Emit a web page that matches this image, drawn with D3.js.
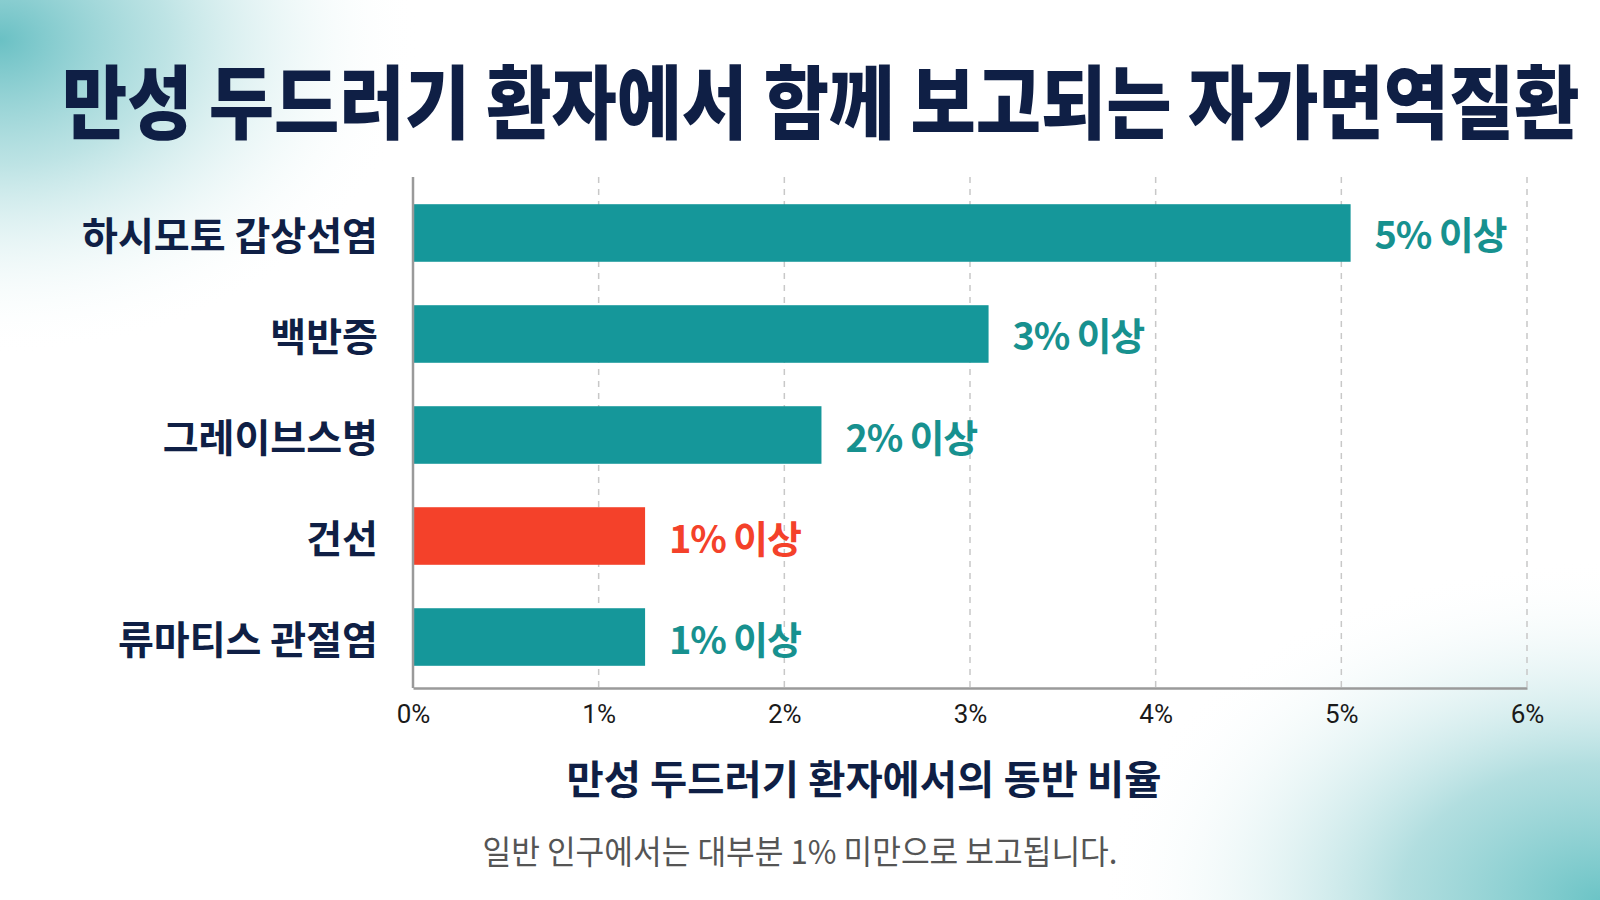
<!DOCTYPE html>
<html>
<head>
<meta charset="utf-8">
<script src="https://cdn.jsdelivr.net/npm/d3@7"></script>
<style>
  html, body { margin: 0; padding: 0; background: #fff; }
  svg { display: block; }
</style>
</head>
<body>
<svg id="chart" width="1600" height="900"></svg>
<script>
// ---- data ----
const title = "만성 두드러기 환자에서 함께 보고되는 자가면역질환";
const categories = ["하시모토 갑상선염", "백반증", "그레이브스병", "건선", "류마티스 관절염"];
const values = [5.05, 3.1, 2.2, 1.25, 1.25];
const valueLabels = ["5% 이상", "3% 이상", "2% 이상", "1% 이상", "1% 이상"];
const highlight = [false, false, false, true, false];
const tickValues = [0, 1, 2, 3, 4, 5, 6];
const tickLabels = ["0%", "1%", "2%", "3%", "4%", "5%", "6%"];
const xTitle = "만성 두드러기 환자에서의 동반 비율";
const footnote = "일반 인구에서는 대부분 1% 미만으로 보고됩니다.";

const W = 1600, H = 900;
const TEAL = "#15979a", RED = "#f4412a", NAVY = "#0f1f45";
const KR = "'Noto Sans CJK KR', 'Noto Sans', sans-serif";

const svg = d3.select("#chart");
const defs = svg.append("defs");

// background gradients
const g1 = defs.append("radialGradient").attr("id", "bgTL")
  .attr("gradientUnits", "userSpaceOnUse")
  .attr("cx", 0).attr("cy", 40).attr("r", 420)
  .attr("gradientTransform", "translate(0,40) scale(1,0.75) translate(0,-40)");
g1.append("stop").attr("offset", "0%").attr("stop-color", "#62bdc1").attr("stop-opacity", 0.95);
g1.append("stop").attr("offset", "40%").attr("stop-color", "#92d1d3").attr("stop-opacity", 0.6);
g1.append("stop").attr("offset", "100%").attr("stop-color", "#ffffff").attr("stop-opacity", 0);

const g2 = defs.append("radialGradient").attr("id", "bgBR")
  .attr("gradientUnits", "userSpaceOnUse")
  .attr("cx", 1600).attr("cy", 900).attr("r", 500)
  .attr("gradientTransform", "translate(1600,900) scale(1,0.68) translate(-1600,-900)");
g2.append("stop").attr("offset", "0%").attr("stop-color", "#6cc4c6").attr("stop-opacity", 1);
g2.append("stop").attr("offset", "40%").attr("stop-color", "#98d3d5").attr("stop-opacity", 0.75);
g2.append("stop").attr("offset", "100%").attr("stop-color", "#ffffff").attr("stop-opacity", 0);

svg.append("rect").attr("width", W).attr("height", H).attr("fill", "#fff");
svg.append("rect").attr("width", W).attr("height", H).attr("fill", "url(#bgTL)");
svg.append("rect").attr("width", W).attr("height", H).attr("fill", "url(#bgBR)");

// title (condensed horizontally to the reference width)
const titleG = svg.append("g");
const titleT = titleG.append("text")
  .attr("x", 0).attr("y", 0)
  .attr("dominant-baseline", "central")
  .attr("font-family", KR).attr("font-weight", 900)
  .attr("font-size", 80)
  .attr("fill", NAVY)
  .text(title);
const natural = titleT.node().getComputedTextLength() || 1518;
const sx = Math.min(1, 1518 / natural);
titleG.attr("transform", `translate(62,97) scale(${sx},1)`);

// scales
const plotTop = 177, plotBottom = 688;
const x = d3.scaleLinear().domain([0, 6]).range([413, 1527]);
const y = d3.scaleBand().domain(categories).range([184, 686]).paddingInner(0.43).paddingOuter(0.2);

// grid
const grid = svg.append("g");
grid.selectAll("line").data(tickValues.filter(d => d > 0)).join("line")
  .attr("x1", d => x(d)).attr("x2", d => x(d))
  .attr("y1", plotTop).attr("y2", plotBottom)
  .attr("stroke", "#c8c8c8").attr("stroke-width", 1.5)
  .attr("stroke-dasharray", "6,6");

// bars
const data = categories.map((c, i) => ({ c, v: values[i], lab: valueLabels[i], hi: highlight[i] }));
svg.append("g").selectAll("rect").data(data).join("rect")
  .attr("x", x(0))
  .attr("y", d => y(d.c))
  .attr("width", d => x(d.v) - x(0))
  .attr("height", y.bandwidth())
  .attr("fill", d => d.hi ? RED : TEAL);

// value labels
svg.append("g").selectAll("text").data(data).join("text")
  .attr("x", d => x(d.v) + 24)
  .attr("y", d => y(d.c) + y.bandwidth() / 2)
  .attr("dominant-baseline", "central")
  .attr("font-family", KR).attr("font-weight", 700)
  .attr("font-size", 38).attr("letter-spacing", "-1.2px")
  .attr("fill", d => d.hi ? RED : "#17918f")
  .text(d => d.lab);

// category labels
svg.append("g").selectAll("text").data(data).join("text")
  .attr("x", 378)
  .attr("y", d => y(d.c) + y.bandwidth() / 2)
  .attr("text-anchor", "end")
  .attr("dominant-baseline", "central")
  .attr("font-family", KR).attr("font-weight", 700)
  .attr("font-size", 39)
  .attr("fill", NAVY)
  .text(d => d.c);

// axes
const xAxis = d3.axisBottom(x).tickValues(tickValues).tickFormat((d, i) => tickLabels[i]).tickSize(0).tickPadding(17);
const gx = svg.append("g").attr("transform", `translate(0,${plotBottom})`).call(xAxis);
gx.select(".domain").attr("stroke", "#9a9a9a").attr("stroke-width", 2.5);
gx.selectAll("text").attr("font-family", "Roboto, 'Liberation Sans', sans-serif")
  .attr("font-size", 26).attr("fill", "#1a1a1a");

svg.append("line")
  .attr("x1", x(0)).attr("x2", x(0))
  .attr("y1", plotTop).attr("y2", plotBottom)
  .attr("stroke", "#9a9a9a").attr("stroke-width", 2.5);

// axis title
svg.append("text")
  .attr("x", 864).attr("y", 777)
  .attr("text-anchor", "middle").attr("dominant-baseline", "central")
  .attr("font-family", KR).attr("font-weight", 700)
  .attr("font-size", 40)
  .attr("fill", NAVY)
  .attr("textLength", 595).attr("lengthAdjust", "spacingAndGlyphs")
  .text(xTitle);

// footnote
svg.append("text")
  .attr("x", 800).attr("y", 850)
  .attr("text-anchor", "middle").attr("dominant-baseline", "central")
  .attr("font-family", KR).attr("font-weight", 400)
  .attr("font-size", 33)
  .attr("fill", "#555")
  .attr("textLength", 635).attr("lengthAdjust", "spacingAndGlyphs")
  .text(footnote);
</script>
</body>
</html>
